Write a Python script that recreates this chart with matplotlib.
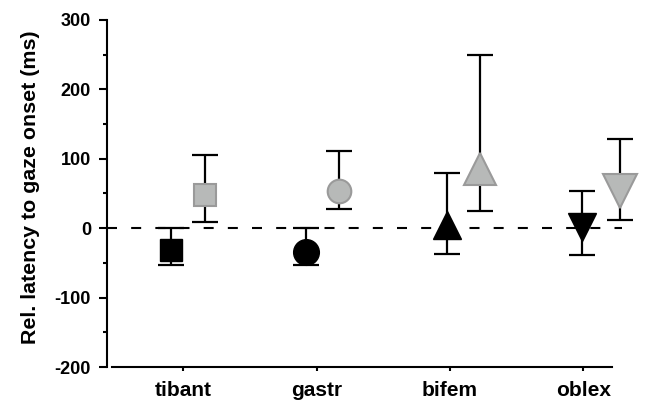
import numpy as np
import matplotlib.pyplot as plt
from matplotlib.ticker import MultipleLocator

plt.rcParams['font.family'] = ['Liberation Sans', 'DejaVu Sans']
plt.rcParams['font.weight'] = 'bold'
plt.rcParams['axes.unicode_minus'] = False

muscles = ['tibant', 'gastr', 'bifem', 'oblex']

# first condition (black markers)
black_x = [-0.095, 0.92, 1.98, 2.99]
black_y = [-32, -34, 4, 2]
black_lo = [-53, -53, -37, -39]
black_hi = [0, 0, 80, 54]

# second condition (grey markers)
gray_x = [0.163, 1.17, 2.225, 3.275]
gray_y = [48, 54, 85, 53]
gray_lo = [9, 27, 25, 12]
gray_hi = [105, 111, 249, 128]

black_markers = ['s', 'o', '^', 'v']
black_sizes = [15.5, 18.5, 20, 20]
gray_markers = ['s', 'o', '^', 'v']
gray_sizes = [15.5, 17, 23, 25]

fig = plt.figure(figsize=(6.45, 4.01), dpi=100)
ax = fig.add_axes([107/645, 1 - 367/401, 515/645, 347/401])

ax.axhline(0, color='black', lw=1.5, dashes=(4.8, 6.8), zorder=1)

for i in range(len(muscles)):
    err = [[black_y[i] - black_lo[i]], [black_hi[i] - black_y[i]]]
    ax.errorbar(black_x[i], black_y[i], yerr=err, fmt='none', ecolor='black',
                elinewidth=1.6, capsize=9.7, capthick=1.6, zorder=2, clip_on=False)
    ax.plot(black_x[i], black_y[i], marker=black_markers[i], ms=black_sizes[i],
            color='black', mec='black', mew=1, zorder=3, clip_on=False)

    err = [[gray_y[i] - gray_lo[i]], [gray_hi[i] - gray_y[i]]]
    ax.errorbar(gray_x[i], gray_y[i], yerr=err, fmt='none', ecolor='black',
                elinewidth=1.6, capsize=9.7, capthick=1.6, zorder=2, clip_on=False)
    ax.plot(gray_x[i], gray_y[i], marker=gray_markers[i], ms=gray_sizes[i],
            color='#b7b9b8', mec='#9a9a9a', mew=1.5, zorder=3, clip_on=False)

ax.set_xlim(-0.572, 3.29)
ax.set_ylim(-200, 300)
ax.set_xticks(range(len(muscles)))
ax.set_xticklabels(muscles, fontsize=15, fontweight='bold')
ax.yaxis.set_major_locator(MultipleLocator(100))
ax.yaxis.set_minor_locator(MultipleLocator(50))
ax.tick_params(axis='y', which='major', length=5.5, width=1.5, labelsize=13, pad=6)
ax.tick_params(axis='y', which='minor', length=3, width=1.5)
ax.tick_params(axis='x', length=3, width=1.5, pad=7)
for lab in ax.get_yticklabels():
    lab.set_fontweight('bold')

ax.spines['top'].set_visible(False)
ax.spines['right'].set_visible(False)
ax.spines['left'].set_linewidth(1.5)
ax.spines['bottom'].set_linewidth(1.5)
ax.spines['bottom'].set_bounds(-0.535, 3.215)

ax.set_ylabel('Rel. latency to gaze onset (ms)', fontsize=15.4, fontweight='bold')
ax.yaxis.set_label_coords(-0.13, 0.517)

fig.savefig('out.png', dpi=100)
